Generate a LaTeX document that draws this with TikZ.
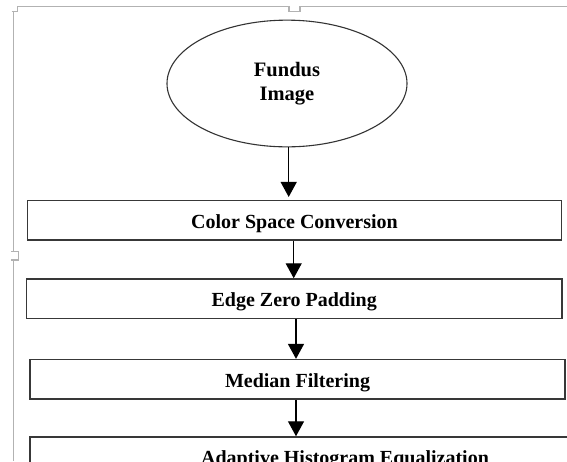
\documentclass[tikz,border=0pt]{standalone}
\usepackage{fontspec}
\setmainfont{Liberation Serif}
\usetikzlibrary{shapes.geometric,arrows.meta}
\begin{document}
\begin{tikzpicture}[x=1pt,y=-1pt,
  frame/.style={draw=black!30, line width=1.3pt},
  stepbox/.style={draw=black!78, line width=1.4pt, rectangle, minimum height=39.5pt, inner sep=0pt,
    text height=15.5pt, text depth=0pt,
    font=\fontsize{20}{23}\selectfont\bfseries},
  startnode/.style={draw=black!80, line width=1.1pt, ellipse, inner sep=0pt, align=center,
    font=\fontsize{20.5}{23.5}\selectfont\bfseries},
  arr/.style={draw=black, line width=1.4pt, -{Triangle[length=15pt,width=16pt]}}]
\clip (0,0) rectangle (567,461);
% page frame
\draw[frame] (11.7,11.7) -- (17.3,11.7) -- (17.3,6.7) -- (289,6.7) -- (289,11.7) -- (300,11.7) -- (300,6.7) -- (567,6.7);
\draw[frame] (13.3,11.7) -- (13.3,251.7);
\draw[frame] (11,251.7) -- (18.3,251.7) -- (18.3,260) -- (11,260);
\draw[frame] (13.3,260) -- (13.3,461);
% nodes
\node[startnode, minimum width=240pt, minimum height=126.7pt] (fundus) at (287,83.5) {Fundus\\Image};
\node[stepbox, minimum width=534.4pt] (b1) at (294.5,220.4) {Color Space Conversion};
\node[stepbox, minimum width=535.6pt] (b2) at (294.2,298.7) {Edge Zero Padding};
\node[stepbox, minimum width=535pt] (b3) at (297.5,379.3) {Median Filtering};
\node[stepbox, minimum width=630pt] (b4) at (345,456.7) {Adaptive Histogram Equalization};
% connectors
\draw[arr, shorten >=3pt] ([xshift=1.7pt]fundus.south) -- ([xshift=1.7pt]fundus.south |- b1.north);
\draw[arr] ([xshift=-0.8pt]b1.south) -- ([xshift=-0.8pt]b1.south |- b2.north);
\draw[arr] ([xshift=1.8pt]b2.south) -- ([xshift=1.8pt]b2.south |- b3.north);
\draw[arr] ([xshift=-1.5pt]b3.south) -- ([xshift=-1.5pt]b3.south |- b4.north);
\end{tikzpicture}
\end{document}
